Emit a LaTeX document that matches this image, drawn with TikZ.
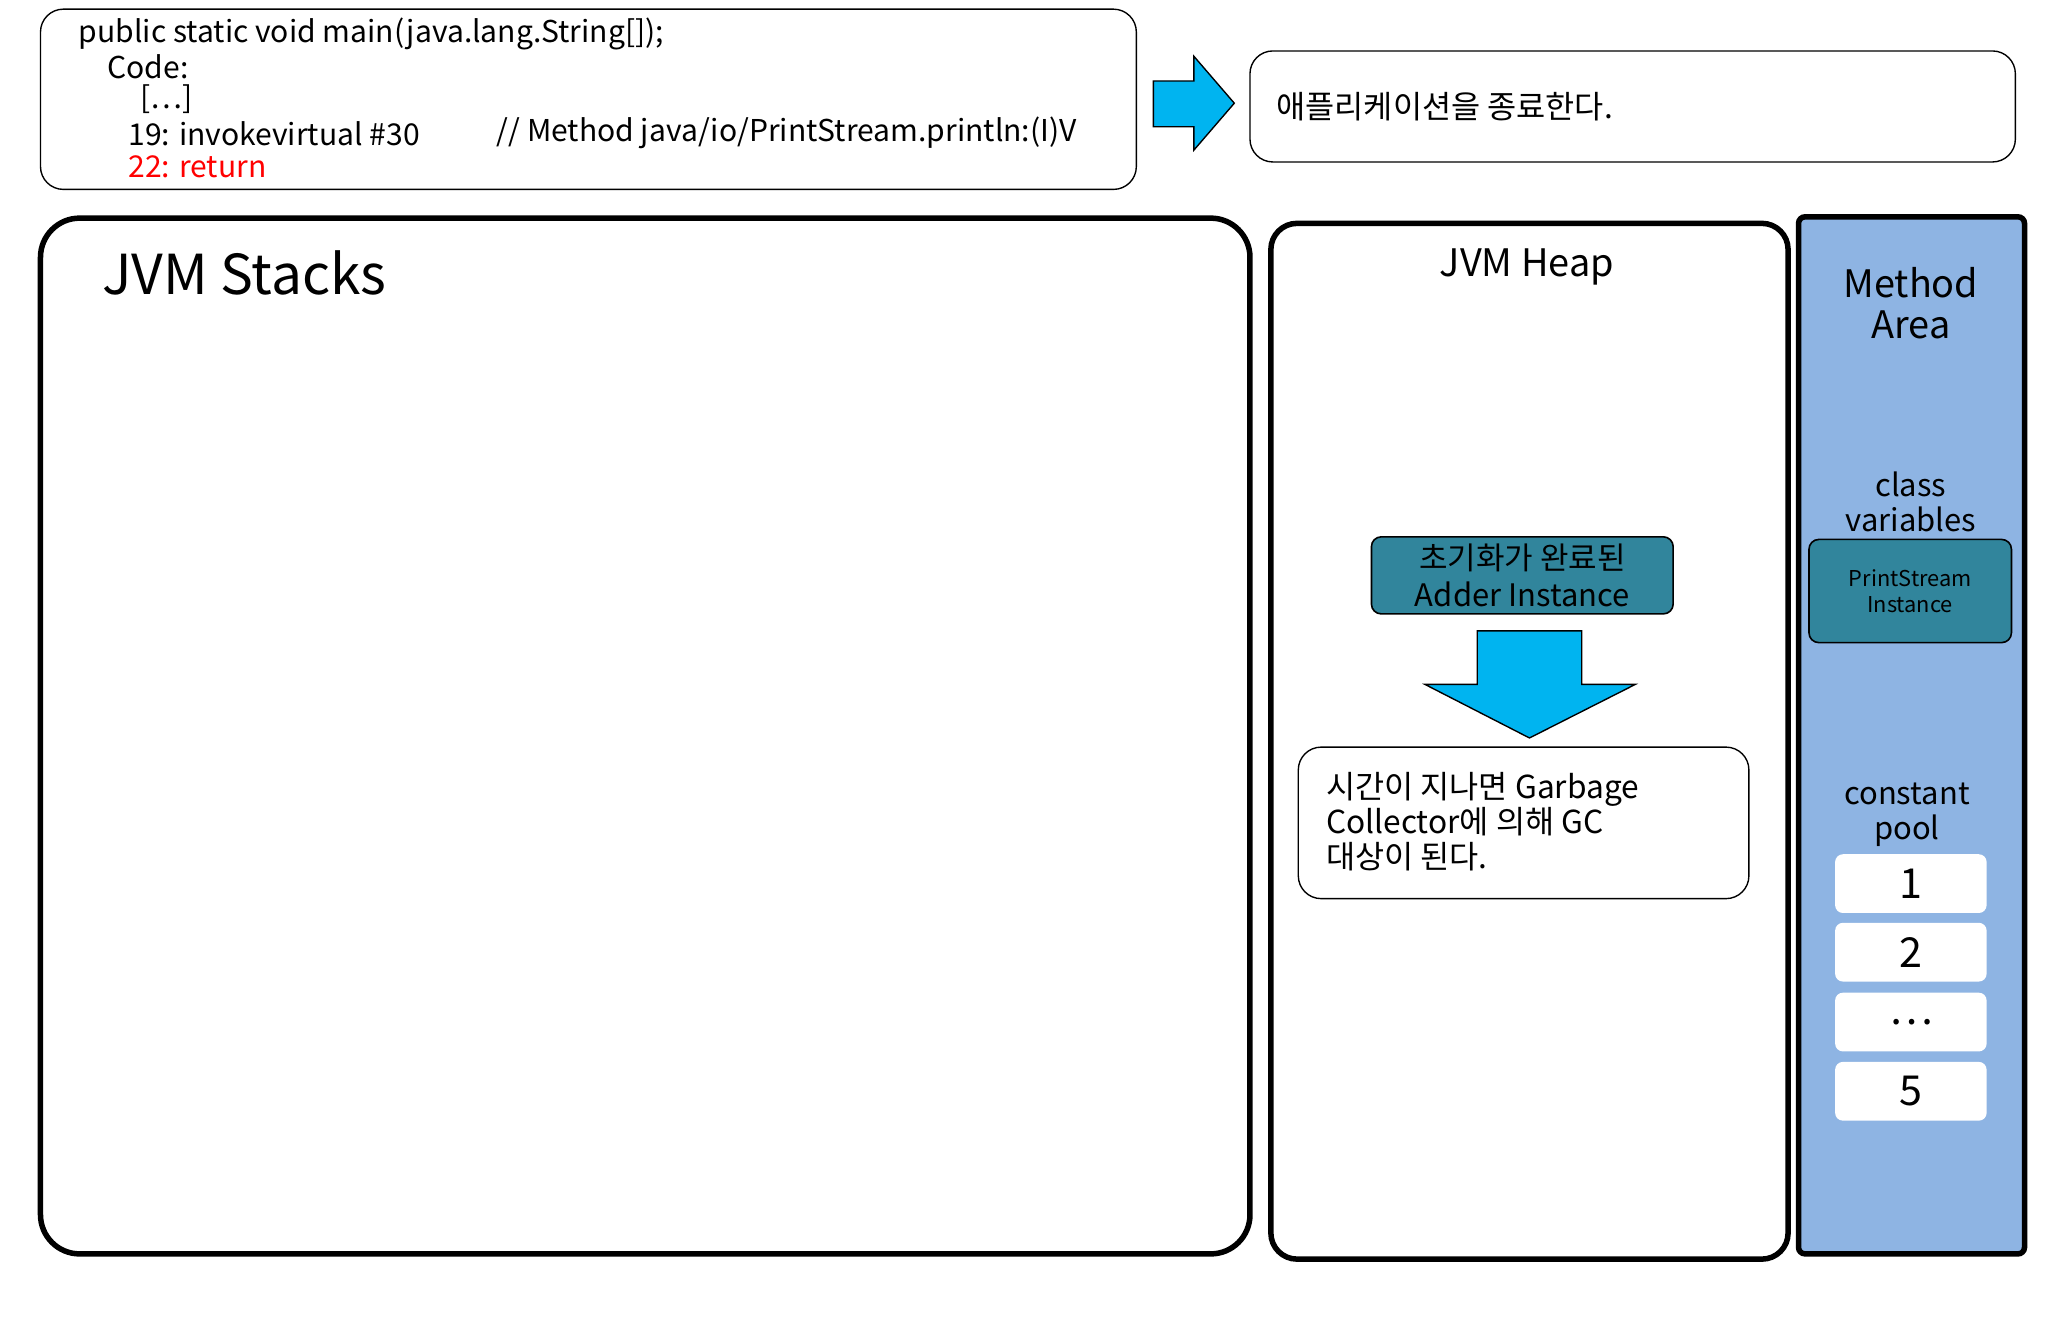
\documentclass[tikz,border=0pt]{standalone}
\usepackage{fontspec}
\setmainfont{Noto Sans CJK KR}
\definecolor{arrowblue}{HTML}{00B4F0}
\definecolor{teal}{HTML}{31859C}
\definecolor{marea}{HTML}{8EB4E3}
\newcommand{\fs}[2]{\fontsize{#1}{#2}\selectfont}
\begin{document}
\begin{tikzpicture}[x=0.02cm,y=-0.02cm,
  thinbox/.style={draw,rounded corners=0.35cm,line width=0.6pt},
  thickbox/.style={draw,rounded corners=0.6cm,line width=2.4pt},
  tealbox/.style={draw,fill=teal,rounded corners=0.15cm,line width=0.7pt},
  cpbox/.style={fill=white,rounded corners=0.12cm,minimum width=116*0.02cm,minimum height=45*0.02cm,font=\fs{18}{20}},
  txt/.style={inner sep=0pt,anchor=west,font=\fs{13.1}{15}}]
\useasboundingbox (0,0) rectangle (1568,1015);
% code box
\draw[thinbox] (31,7) rectangle (870,145);
\node[txt] (l1) at (60,26) {public static void main(java.lang.String[]);};
\node[txt] (l2) at (82,51) {Code:};
\node[txt] (l3) at (107,76) {[…]};
\node[txt] (l4) at (98,102) {19: invokevirtual \#30};
\node[txt] (l4b) at (380,102) {// Method java/io/PrintStream.println:(I)V};
\node[txt,text=red] (l5) at (98,128) {22: return};
% right arrow
\draw[fill=arrowblue,line width=0.6pt] (883,62) -- (914,62) -- (914,43) -- (945,79) -- (914,115) -- (914,97) -- (883,97) -- cycle;
\draw[thinbox] (957,39) rectangle (1543,124);
\node[txt,font=\fs{13.8}{16}] (end) at (977,82) {애플리케이션을 종료한다.};
% JVM stacks
\draw[thickbox] (31,167) rectangle (957,960);
\node[txt,font=\fs{24}{28}] (st) at (78,209) {JVM Stacks};
% heap
\draw[thickbox,rounded corners=0.4cm] (973,171) rectangle (1369,964);
\node[font=\fs{16.5}{19}] (hp) at (1169,204) {JVM Heap};
\node[tealbox,minimum width=231*0.02cm,minimum height=59*0.02cm,align=center,inner sep=0pt,font=\fs{13.5}{16}] (ad) at (1165.5,440.5) {초기화가 완료된\\Adder Instance};
\draw[fill=arrowblue,line width=0.6pt] (1131,483) -- (1211,483) -- (1211,524) -- (1252,524) -- (1171,565) -- (1091,524) -- (1131,524) -- cycle;
\draw[thinbox] (994,572) rectangle (1339,688);
\node[align=left,anchor=north west,inner sep=0pt,font=\fs{13.8}{15.3}] (gc) at (1015,591) {시간이 지나면 Garbage\\Collector에 의해 GC\\대상이 된다.};
% method area
\draw[fill=marea,line width=2.4pt,rounded corners=0.1cm] (1377,166) rectangle (1550,960);
\node[align=center,font=\fs{16.5}{18}] (ma) at (1463,232) {Method\\Area};
\node[align=center,font=\fs{13.5}{15.3}] (cv) at (1463,384) {class\\variables};
\node[tealbox,minimum width=155*0.02cm,minimum height=79*0.02cm,align=center,inner sep=0pt,font=\fs{9.5}{11.3}] (ps) at (1462.5,452.5) {PrintStream\\Instance};
\node[align=center,font=\fs{13.5}{15.3}] (cp) at (1460,624) {constant\\pool};
\node[cpbox] (c1) at (1463,676.5) {1};
\node[cpbox] (c2) at (1463,729) {2};
\node[cpbox] (c3) at (1463,782.5) {…};
\node[cpbox] (c4) at (1463,835.5) {5};
\end{tikzpicture}
\end{document}
